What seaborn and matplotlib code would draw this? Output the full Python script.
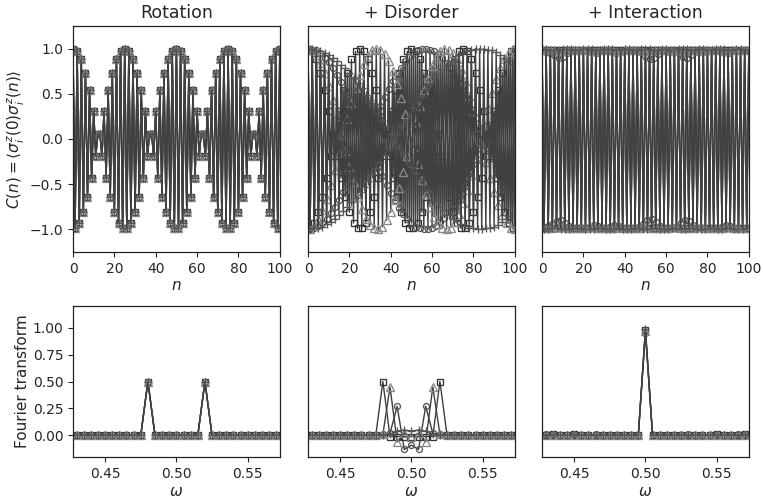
import matplotlib
matplotlib.use("Agg")
import matplotlib.pyplot as plt
import seaborn as sns

# ---------------- data ----------------
n_values = list(range(0, 101))

omega_values = [0.425, 0.430, 0.435, 0.440, 0.445, 0.450, 0.455, 0.460, 0.465, 0.470,
                0.475, 0.480, 0.485, 0.490, 0.495, 0.500, 0.505, 0.510, 0.515, 0.520,
                0.525, 0.530, 0.535, 0.540, 0.545, 0.550, 0.555, 0.560, 0.565, 0.570,
                0.575]

titles = ["Rotation", "+ Disorder", "+ Interaction"]

# Rotation: all four traces coincide
rotation_C = [1.00, -0.99, 0.97, -0.93, 0.88, -0.81, 0.73, -0.64, 0.54, -0.43, 0.31, -0.19, 0.06,
              0.06, -0.19, 0.31, -0.43, 0.54, -0.64, 0.73, -0.81, 0.88, -0.93, 0.97, -0.99,
              1.00, -0.99, 0.97, -0.93, 0.88, -0.81, 0.73, -0.64, 0.54, -0.43, 0.31, -0.19, 0.06,
              0.06, -0.19, 0.31, -0.43, 0.54, -0.64, 0.73, -0.81, 0.88, -0.93, 0.97, -0.99,
              1.00, -0.99, 0.97, -0.93, 0.88, -0.81, 0.73, -0.64, 0.54, -0.43, 0.31, -0.19, 0.06,
              0.06, -0.19, 0.31, -0.43, 0.54, -0.64, 0.73, -0.81, 0.88, -0.93, 0.97, -0.99,
              1.00, -0.99, 0.97, -0.93, 0.88, -0.81, 0.73, -0.64, 0.54, -0.43, 0.31, -0.19, 0.06,
              0.06, -0.19, 0.31, -0.43, 0.54, -0.64, 0.73, -0.81, 0.88, -0.93, 0.97, -0.99,
              1.00]

# Disorder
disorder_sq = rotation_C
disorder_tri = [1.00, -1.00, 0.98, -0.96, 0.93, -0.89, 0.84, -0.79, 0.73, -0.66,
                0.59, -0.51, 0.43, -0.34, 0.25, -0.16, 0.06, 0.03, -0.13, 0.22,
                -0.31, 0.40, -0.48, 0.56, -0.64, 0.71, -0.77, 0.83, -0.88, 0.92,
                -0.95, 0.98, -0.99, 1.00, -1.00, 0.99, -0.97, 0.94, -0.90, 0.86,
                -0.81, 0.75, -0.68, 0.61, -0.54, 0.45, -0.37, 0.28, -0.19, 0.09,
                0.00, -0.09, 0.19, -0.28, 0.37, -0.45, 0.54, -0.61, 0.68, -0.75,
                0.81, -0.86, 0.90, -0.94, 0.97, -0.99, 1.00, -1.00, 0.99, -0.98,
                0.95, -0.92, 0.88, -0.83, 0.77, -0.71, 0.64, -0.56, 0.48, -0.40,
                0.31, -0.22, 0.13, -0.03, -0.06, 0.16, -0.25, 0.34, -0.43, 0.51,
                -0.59, 0.66, -0.73, 0.79, -0.84, 0.89, -0.93, 0.96, -0.98, 1.00,
                -1.00]
disorder_circ = [1.00, -1.00, 0.99, -0.99, 0.98, -0.96, 0.95, -0.93, 0.90, -0.88,
                 0.85, -0.82, 0.79, -0.75, 0.71, -0.67, 0.63, -0.59, 0.54, -0.50,
                 0.45, -0.40, 0.35, -0.29, 0.24, -0.19, 0.13, -0.08, 0.02, 0.03,
                 -0.09, 0.14, -0.20, 0.25, -0.31, 0.36, -0.41, 0.46, -0.51, 0.55,
                 -0.60, 0.64, -0.68, 0.72, -0.76, 0.79, -0.83, 0.86, -0.88, 0.91,
                 -0.93, 0.95, -0.97, 0.98, -0.99, 1.00, -1.00, 1.00, -1.00, 0.99,
                 -0.98, 0.97, -0.96, 0.94, -0.92, 0.90, -0.87, 0.84, -0.81, 0.78,
                 -0.74, 0.71, -0.67, 0.62, -0.58, 0.53, -0.49, 0.44, -0.39, 0.33,
                 -0.28, 0.23, -0.17, 0.12, -0.06, 0.01, 0.05, -0.10, 0.16, -0.21,
                 0.26, -0.32, 0.37, -0.42, 0.47, -0.52, 0.56, -0.61, 0.65, -0.69,
                 0.73]
disorder_plus = [1.00, -1.00, 1.00, -0.99, 0.99, -0.98, 0.97, -0.97, 0.95, -0.94,
                 0.93, -0.92, 0.90, -0.88, 0.86, -0.84, 0.82, -0.80, 0.78, -0.75,
                 0.73, -0.70, 0.68, -0.65, 0.62, -0.59, 0.56, -0.53, 0.49, -0.46,
                 0.43, -0.39, 0.36, -0.32, 0.29, -0.25, 0.21, -0.18, 0.14, -0.10,
                 0.06, -0.03, -0.01, 0.05, -0.09, 0.13, -0.16, 0.20, -0.24, 0.27,
                 -0.31, 0.34, -0.38, 0.41, -0.45, 0.48, -0.51, 0.55, -0.58, 0.61,
                 -0.64, 0.67, -0.69, 0.72, -0.75, 0.77, -0.79, 0.82, -0.84, 0.86,
                 -0.88, 0.89, -0.91, 0.93, -0.94, 0.95, -0.96, 0.97, -0.98, 0.99,
                 -0.99, 1.00, -1.00, 1.00, -1.00, 1.00, -0.99, 0.99, -0.98, 0.98,
                 -0.97, 0.96, -0.95, 0.93, -0.92, 0.90, -0.89, 0.87, -0.85, 0.83,
                 -0.81]

# Interaction
inter_sq = [0.99, -0.99, 0.99, -0.99, 0.99, -0.98, 0.98, -0.98, 0.98, -0.99,
            0.99, -0.99, 0.99, -0.99, 0.99, -0.99, 0.99, -0.99, 0.99, -0.99,
            0.98, -0.98, 0.98, -0.98, 0.99, -0.99, 0.99, -0.99, 0.99, -0.99,
            0.99, -0.99, 0.99, -0.98, 0.98, -0.98, 0.99, -0.99, 0.99, -0.99,
            0.99, -0.99, 0.99, -0.99, 0.99, -0.99, 0.99, -0.99, 0.98, -0.98,
            0.98, -0.98, 0.98, -0.98, 0.99, -0.99, 0.99, -0.99, 0.99, -0.99,
            0.99, -0.99, 0.99, -0.99, 0.99, -0.99, 0.98, -0.98, 0.98, -0.98,
            0.99, -0.99, 0.99, -0.99, 0.99, -0.99, 0.99, -0.99, 0.99, -0.99,
            0.99, -0.99, 0.99, -0.99, 0.99, -0.99, 0.99, -0.98, 0.98, -0.98,
            0.99, -0.99, 0.99, -0.99, 0.99, -0.99, 0.99, -0.99, 0.99, -0.99,
            0.99]
inter_tri = [1.00, -0.99, 0.99, -0.98, 0.98, -0.98, 0.98, -0.97, 0.97, -0.97,
             0.97, -0.97, 0.98, -0.98, 0.98, -0.99, 0.99, -0.99, 0.99, -0.98,
             0.98, -0.98, 0.98, -0.97, 0.97, -0.97, 0.97, -0.98, 0.98, -0.98,
             0.99, -0.99, 0.99, -0.98, 0.98, -0.98, 0.97, -0.97, 0.97, -0.98,
             0.98, -0.98, 0.99, -0.99, 0.99, -0.98, 0.98, -0.98, 0.97, -0.97,
             0.97, -0.97, 0.97, -0.98, 0.98, -0.98, 0.99, -0.99, 0.99, -0.98,
             0.98, -0.98, 0.97, -0.97, 0.97, -0.97, 0.98, -0.98, 0.98, -0.99,
             0.99, -0.99, 0.98, -0.98, 0.98, -0.97, 0.97, -0.97, 0.97, -0.98,
             0.98, -0.98, 0.99, -0.99, 0.99, -0.98, 0.98, -0.98, 0.97, -0.97,
             0.97, -0.97, 0.98, -0.98, 0.98, -0.99, 0.99, -0.99, 0.98, -0.98,
             0.98]
inter_circ = [0.98, -0.97, 0.96, -0.96, 0.95, -0.94, 0.93, -0.91, 0.90, -0.90,
              0.91, -0.93, 0.95, -0.96, 0.97, -0.98, 0.98, -0.98, 0.98, -0.98,
              0.98, -0.98, 0.98, -0.97, 0.96, -0.95, 0.95, -0.96, 0.97, -0.98,
              0.98, -0.98, 0.98, -0.97, 0.96, -0.95, 0.95, -0.96, 0.97, -0.98,
              0.98, -0.98, 0.98, -0.98, 0.98, -0.98, 0.98, -0.97, 0.96, -0.94,
              0.92, -0.90, 0.89, -0.89, 0.90, -0.92, 0.94, -0.96, 0.97, -0.98,
              0.98, -0.98, 0.98, -0.98, 0.98, -0.97, 0.95, -0.93, 0.91, -0.90,
              0.90, -0.91, 0.93, -0.95, 0.97, -0.98, 0.98, -0.98, 0.98, -0.98,
              0.98, -0.98, 0.98, -0.98, 0.98, -0.98, 0.98, -0.97, 0.96, -0.95,
              0.95, -0.96, 0.97, -0.98, 0.98, -0.98, 0.98, -0.98, 0.98, -0.98,
              0.98]
inter_plus = [1.00, -1.00, 1.00, -1.00, 0.99, -0.99, 0.99, -0.99, 0.99, -1.00,
              1.00, -1.00, 1.00, -1.00, 1.00, -0.99, 0.99, -0.99, 0.99, -0.99,
              1.00, -1.00, 1.00, -1.00, 1.00, -1.00, 0.99, -0.99, 0.99, -0.99,
              1.00, -1.00, 1.00, -1.00, 1.00, -1.00, 0.99, -0.99, 0.99, -1.00,
              1.00, -1.00, 1.00, -1.00, 0.99, -0.99, 0.99, -0.99, 1.00, -1.00,
              1.00, -1.00, 1.00, -0.99, 0.99, -0.99, 0.99, -1.00, 1.00, -1.00,
              1.00, -1.00, 0.99, -0.99, 0.99, -0.99, 1.00, -1.00, 1.00, -1.00,
              1.00, -0.99, 0.99, -0.99, 0.99, -1.00, 1.00, -1.00, 1.00, -1.00,
              0.99, -0.99, 0.99, -0.99, 1.00, -1.00, 1.00, -1.00, 1.00, -0.99,
              0.99, -0.99, 0.99, -1.00, 1.00, -1.00, 1.00, -1.00, 0.99, -0.99,
              0.99]

# Fourier transforms (omega grid above)
rotation_FT = [0.00, 0.00, 0.00, 0.00, 0.00, 0.00, 0.00, 0.00, 0.00, 0.00,
               0.00, 0.50, 0.00, 0.00, 0.00, 0.00, 0.00, 0.00, 0.00, 0.50,
               0.00, 0.00, 0.00, 0.00, 0.00, 0.00, 0.00, 0.00, 0.00, 0.00,
               0.00]
disorder_FT_sq = [0.00, 0.00, 0.00, 0.00, 0.00, 0.00, 0.00, 0.00, 0.00, 0.00,
                  0.00, 0.50, -0.01, -0.01, -0.01, -0.01, -0.01, -0.01, -0.01, 0.50,
                  0.00, 0.00, 0.00, 0.00, 0.00, 0.00, 0.00, 0.00, 0.00, 0.00,
                  0.00]
disorder_FT_tri = [0.00, 0.00, 0.00, 0.00, 0.00, 0.00, 0.00, 0.00, 0.00, 0.00,
                   0.00, 0.01, 0.45, -0.06, 0.02, -0.01, 0.02, -0.06, 0.45, 0.01,
                   0.00, 0.00, 0.00, 0.00, 0.00, 0.00, 0.00, 0.00, 0.00, 0.00,
                   0.00]
disorder_FT_circ = [0.00, 0.00, 0.00, 0.00, 0.00, 0.00, 0.00, 0.00, 0.00, 0.00,
                    0.00, 0.01, 0.02, 0.27, -0.13, -0.09, -0.13, 0.27, 0.02, 0.01,
                    0.00, 0.00, 0.00, 0.00, 0.00, 0.00, 0.00, 0.00, 0.00, 0.00,
                    0.00]
disorder_FT_plus = [0.00, 0.00, 0.00, 0.00, 0.00, 0.00, 0.00, 0.00, 0.00, 0.00,
                    0.00, 0.00, 0.01, 0.04, 0.05, 0.04, 0.05, 0.04, 0.01, 0.00,
                    0.00, 0.00, 0.00, 0.00, 0.00, 0.00, 0.00, 0.00, 0.00, 0.00,
                    0.00]
inter_FT_sq = [0.00, 0.00, 0.01, 0.00, 0.00, 0.01, 0.00, 0.00, 0.00, 0.00,
               0.00, 0.00, 0.00, 0.00, 0.00, 0.98, 0.00, 0.00, 0.00, 0.00,
               0.00, 0.00, 0.00, 0.00, 0.00, 0.01, 0.00, 0.00, 0.00, 0.01,
               0.00]
inter_FT_tri = [0.00, 0.00, 0.00, 0.00, 0.00, 0.00, 0.00, 0.00, 0.00, 0.00,
                0.00, 0.00, 0.00, 0.00, 0.00, 0.97, 0.00, 0.00, 0.00, 0.00,
                0.00, 0.00, 0.00, 0.00, 0.00, 0.00, 0.00, 0.00, 0.00, 0.00,
                0.00]
inter_FT_circ = [0.00, 0.01, 0.00, 0.00, 0.00, 0.00, 0.00, 0.00, 0.01, 0.00,
                 0.00, 0.00, 0.00, 0.00, 0.00, 0.95, 0.00, 0.00, 0.00, 0.00,
                 0.00, 0.01, 0.00, 0.00, 0.00, 0.00, 0.00, 0.00, 0.01, 0.00,
                 0.00]
inter_FT_plus = [0.00, 0.00, 0.00, 0.00, 0.00, 0.00, 0.00, 0.00, 0.00, 0.00,
                 0.00, 0.00, 0.00, 0.00, 0.00, 0.99, 0.00, 0.00, 0.00, 0.00,
                 0.00, 0.00, 0.00, 0.00, 0.00, 0.00, 0.00, 0.00, 0.00, 0.00,
                 0.00]

# ---------------- style ----------------
sns.set_style("ticks")
plt.rcParams["font.family"] = ["DejaVu Sans"]
plt.rcParams["mathtext.fontset"] = "dejavusans"
plt.rcParams["xtick.labelsize"] = 10
plt.rcParams["ytick.labelsize"] = 10
plt.rcParams["axes.edgecolor"] = "#222222"
plt.rcParams["axes.linewidth"] = 0.9

LINE_C = "#404040"
styles = [  # marker, edge colour, size
    ("s", "#333333", 4.3),
    ("o", "#555555", 4.3),
    ("^", "#888888", 5.2),
    ("+", "#555555", 5.8),
]

fig = plt.figure(figsize=(7.63, 5.0), dpi=100)
lefts = [0.0957, 0.4037, 0.7104]
width = 0.2710
top_axes = [fig.add_axes([l, 0.496, width, 0.452]) for l in lefts]
bot_axes = [fig.add_axes([l, 0.086, width, 0.302]) for l in lefts]

top_series = [
    [rotation_C, rotation_C, rotation_C, rotation_C],
    [disorder_sq, disorder_circ, disorder_tri, disorder_plus],
    [inter_sq, inter_circ, inter_tri, inter_plus],
]
bot_series = [
    [rotation_FT, rotation_FT, rotation_FT, rotation_FT],
    [disorder_FT_sq, disorder_FT_circ, disorder_FT_tri, disorder_FT_plus],
    [inter_FT_sq, inter_FT_circ, inter_FT_tri, inter_FT_plus],
]


def draw(ax, x, y, style):
    marker, mec, ms = style
    sns.lineplot(x=x, y=y, ax=ax, color=LINE_C, linewidth=1.0, marker=marker,
                 markersize=ms, markerfacecolor="none", markeredgecolor=mec,
                 markeredgewidth=0.95, estimator=None, sort=False, legend=False)


for i, ax in enumerate(top_axes):
    for y, st in zip(top_series[i], styles):
        draw(ax, n_values, y, st)
    ax.set_xlim(0, 100)
    ax.set_ylim(-1.25, 1.25)
    ax.set_xticks([0, 20, 40, 60, 80, 100])
    ax.set_xlabel("$n$", fontsize=11, labelpad=2)
    ax.set_title(titles[i], fontsize=12.5)
    if i == 0:
        ax.set_yticks([-1.0, -0.5, 0.0, 0.5, 1.0])
        ax.set_ylabel(r"$C(n) = \langle\sigma_i^z(0)\sigma_i^z(n)\rangle$",
                      fontsize=11, labelpad=2)
    else:
        ax.set_yticks([])
        ax.set_ylabel("")

for i, ax in enumerate(bot_axes):
    for y, st in zip(bot_series[i], styles):
        draw(ax, omega_values, y, st)
    ax.set_xlim(0.4275, 0.5725)
    ax.set_ylim(-0.2, 1.2)
    ax.set_xticks([0.45, 0.50, 0.55])
    ax.set_xlabel(r"$\omega$", fontsize=11, labelpad=2)
    if i == 0:
        ax.set_yticks([0.0, 0.25, 0.5, 0.75, 1.0])
        ax.set_yticklabels(["0.00", "0.25", "0.50", "0.75", "1.00"])
        ax.set_ylabel("Fourier transform", fontsize=11, labelpad=2)
    else:
        ax.set_yticks([])
        ax.set_ylabel("")

for ax in top_axes + bot_axes:
    for sp in ax.spines.values():
        sp.set_visible(True)

fig.savefig("out.png", dpi=100)
